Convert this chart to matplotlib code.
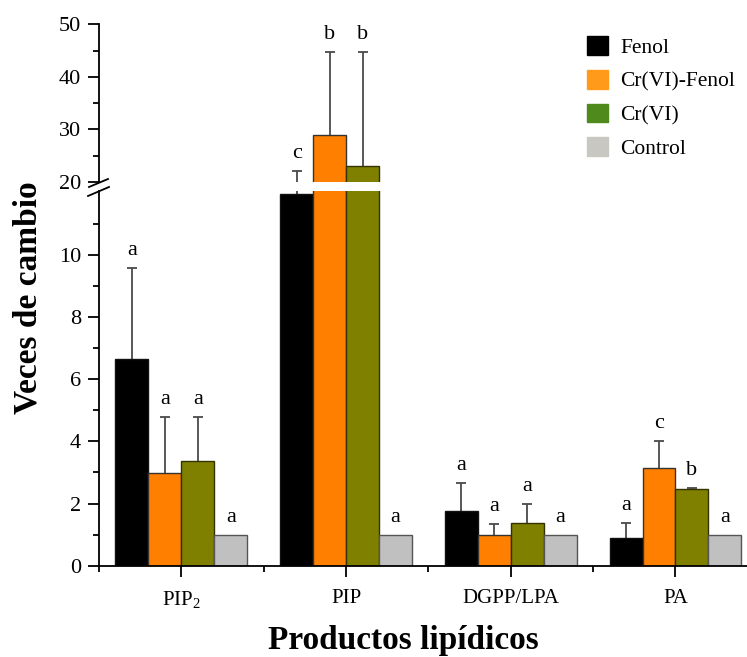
import matplotlib
matplotlib.use("Agg")
import matplotlib.pyplot as plt
from matplotlib.patches import Patch
from matplotlib.lines import Line2D
import numpy as np

plt.rcParams['font.family'] = ['Liberation Serif', 'DejaVu Serif']
plt.rcParams['mathtext.fontset'] = 'custom'
plt.rcParams['mathtext.rm'] = 'Liberation Serif'

categories = ['PIP$_{\\mathrm{2}}$', 'PIP', 'DGPP/LPA', 'PA']
series = ['Fenol', 'Cr(VI)-Fenol', 'Cr(VI)', 'Control']
fenol = [6.65, 11.95, 1.77, 0.90]
fenol_err = [2.91, 10.15, 0.90, 0.48]
crfenol = [2.99, 28.9, 1.00, 3.15]
crfenol_err = [1.80, 15.8, 0.34, 0.86]
cr = [3.37, 23.0, 1.37, 2.47]
cr_err = [1.42, 21.7, 0.63, 0.03]
control = [1.0, 1.0, 1.0, 1.0]
control_err = [0, 0, 0, 0]
letters_fenol = ['a', 'c', 'a', 'a']
letters_crfenol = ['a', 'b', 'a', 'c']
letters_cr = ['a', 'b', 'a', 'b']
letters_control = ['a', 'a', 'a', 'a']

values = [fenol, crfenol, cr, control]
errors = [fenol_err, crfenol_err, cr_err, control_err]
letters = [letters_fenol, letters_crfenol, letters_cr, letters_control]
bar_colors = ['#000000', '#FF8000', '#808000', '#C0C0C0']
edge_colors = ['#111111', '#333333', '#333300', '#555555']
legend_colors = ['#000000', '#FF9A1A', '#4E8A1C', '#C9C7C2']

W, H = 747, 657
fig = plt.figure(figsize=(W / 100, H / 100), dpi=100)
ax_lo = fig.add_axes([99 / W, 91.3 / H, 648 / W, 374.7 / H])
ax_hi = fig.add_axes([99 / W, 475 / H, 648 / W, 157.7 / H], sharex=ax_lo)

x = np.arange(len(categories))
bw = 0.2
for ax in (ax_lo, ax_hi):
    for j in range(4):
        xs = x + (j - 1.5) * bw
        ax.bar(xs, values[j], width=bw, color=bar_colors[j],
               edgecolor=edge_colors[j], linewidth=1.0, zorder=2)
        err = np.array(errors[j])
        mask = err > 0
        if mask.any():
            _, caps, _ = ax.errorbar(xs[mask], np.array(values[j])[mask],
                                     yerr=[np.zeros(mask.sum()), err[mask]],
                                     fmt='none', ecolor='#4a4a4a', elinewidth=1.3,
                                     capsize=3.6, capthick=1.3, zorder=1)
            caps[0].set_visible(False)

for j in range(4):
    xs = x + (j - 1.5) * bw
    for i in range(len(categories)):
        top = values[j][i] + errors[j][i]
        ax = ax_hi if top > 20 else ax_lo
        ax.annotate(letters[j][i], (xs[i], top), xytext=(0, 8),
                    textcoords='offset pixels', ha='center', va='bottom',
                    fontsize=16)

ax_lo.set_xlim(-0.5, -0.5 + 648 / 164.7)
ax_lo.set_ylim(0, 12.05)
ax_hi.set_ylim(20, 50)

for ax in (ax_lo, ax_hi):
    ax.spines['right'].set_visible(False)
    ax.spines['top'].set_visible(False)
    ax.spines['left'].set_linewidth(1.3)
    ax.spines['bottom'].set_linewidth(1.3)
    ax.tick_params(axis='y', which='major', length=8, width=1.3, pad=5,
                   labelsize=16, direction='out')
    ax.tick_params(axis='y', which='minor', length=4.5, width=1.3, direction='out')
    ax.set_facecolor('none')

ax_hi.spines['bottom'].set_visible(False)
ax_hi.tick_params(axis='x', which='both', bottom=False, labelbottom=False)

ax_lo.set_yticks([0, 2, 4, 6, 8, 10])
ax_lo.set_yticks([1, 3, 5, 7, 9, 11], minor=True)
ax_hi.set_yticks([20, 30, 40, 50])
ax_hi.set_yticks([25, 35, 45], minor=True)

ax_lo.set_xticks(x)
ax_lo.set_xticklabels(categories)
ax_lo.set_xticks([-0.5, 0.5, 1.5, 2.5], minor=True)
ax_lo.tick_params(axis='x', which='major', length=8, width=1.3, pad=9,
                  labelsize=15, direction='out')
ax_lo.tick_params(axis='x', which='minor', length=4.5, width=1.3, direction='out')

# axis break marks
for (x0, y0, x1, y1) in [(88, 196, 109, 187), (89, 187, 108, 179)]:
    fig.add_artist(Line2D([x0 / W, x1 / W], [(H - y0) / H, (H - y1) / H],
                          transform=fig.transFigure, color='black', lw=1.3))

fig.text(28 / W, (H - 298) / H, 'Veces de cambio', rotation=90,
         ha='center', va='center', fontsize=24, fontweight='bold')
fig.text(403 / W, (H - 641) / H, 'Productos lipídicos',
         ha='center', va='center', fontsize=24, fontweight='bold')

handles = [Patch(facecolor=c, edgecolor=c) for c in legend_colors]
fig.legend(handles, series, loc='upper left',
           bbox_to_anchor=(570 / W, (H - 19) / H),
           bbox_transform=fig.transFigure, frameon=False, fontsize=15.5,
           handlelength=0.95, handleheight=0.95, handletextpad=0.6,
           labelspacing=0.56, borderpad=0.3)

fig.savefig('out.png', dpi=100)
